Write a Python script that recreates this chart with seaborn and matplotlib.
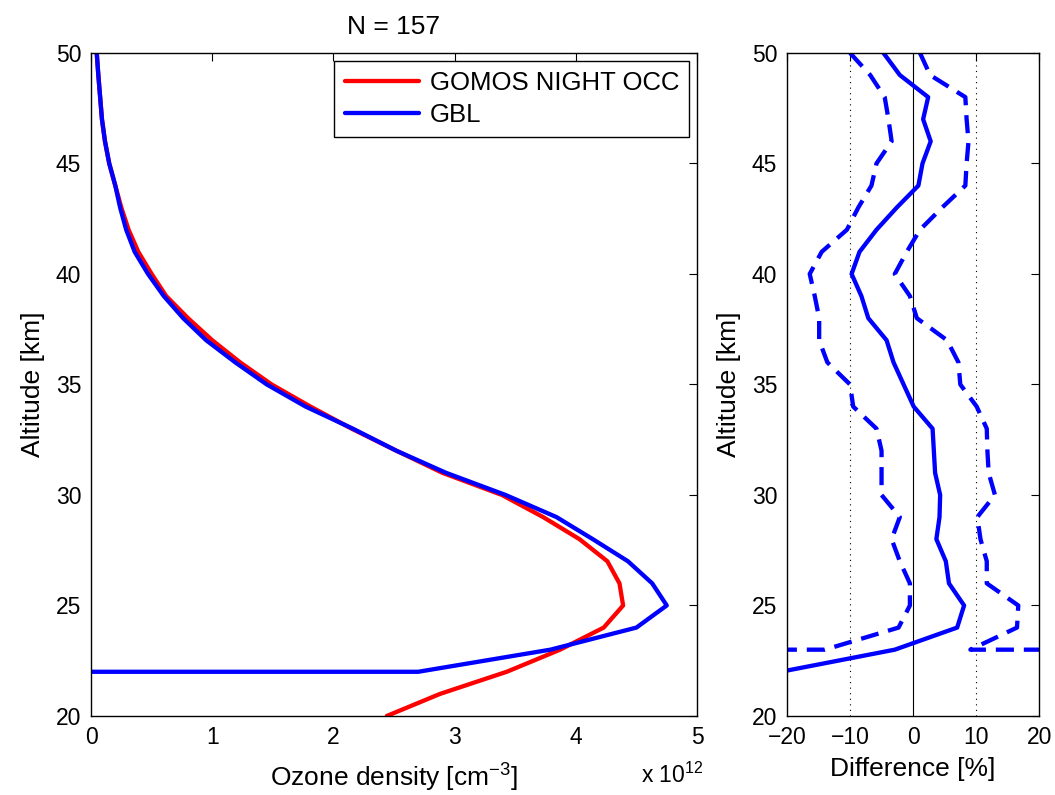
"""Perfil de ozono GOMOS vs GBL y diferencia relativa."""
import matplotlib
matplotlib.use("Agg")
import matplotlib.pyplot as plt
import seaborn as sns
import numpy as np

# altitudes [km]
alt_gomos = [50, 49, 48, 47, 46, 45, 44, 43, 42, 41, 40, 39, 38, 37, 36, 35,
             34, 33, 32, 31, 30, 29, 28, 27, 26, 25, 24, 23, 22, 21, 20]
# densidad de ozono [x 1e12 cm^-3]
gomos = [0.047, 0.06, 0.075, 0.09, 0.115, 0.15, 0.2, 0.25, 0.31, 0.39, 0.50,
         0.62, 0.80, 1.00, 1.23, 1.49, 1.81, 2.15, 2.52, 2.90, 3.39, 3.73,
         4.03, 4.26, 4.36, 4.39, 4.23, 3.87, 3.43, 2.88, 2.44]

alt_gbl = [50, 49, 48, 47, 46, 45, 44, 43, 42, 41, 40, 39, 38, 37, 36, 35,
           34, 33, 32, 31, 30, 29, 28, 27, 26, 25, 24, 23, 22, 22]
gbl = [0.047, 0.06, 0.075, 0.09, 0.115, 0.15, 0.2, 0.24, 0.29, 0.36, 0.47,
       0.60, 0.76, 0.95, 1.19, 1.45, 1.77, 2.16, 2.52, 2.93, 3.42, 3.84,
       4.14, 4.43, 4.63, 4.75, 4.50, 3.79, 2.70, 0.0]

# diferencia [%]: mediana y limites
alt_dif = [50, 49, 48, 47, 46, 45, 44, 43, 42, 41, 40, 39, 38, 37, 36, 35,
           34, 33, 32, 31, 30, 29, 28, 27, 26, 25, 24, 23, 22]
dif_med = [-4.7, -2.1, 2.4, 1.6, 2.8, 1.5, 0.85, -2.6, -5.8, -8.5, -9.75,
           -8.2, -7.1, -4.2, -3.1, -1.5, 0.1, 3.1, 3.3, 3.5, 4.3, 4.2, 3.7,
           5.2, 5.7, 8.1, 7.0, -2.9, -21.0]

alt_lim = [50, 49, 48, 47, 46, 45, 44, 43, 42, 41, 40, 39, 38, 37, 36, 35,
           34, 33, 32, 31, 30, 29, 28, 27, 26, 25, 24, 23, 23]
dif_inf = [-10.0, -6.8, -4.5, -3.9, -3.4, -5.8, -6.6, -8.7, -10.5, -14.5,
           -16.4, -15.6, -14.9, -14.9, -13.6, -10.0, -9.5, -5.8, -5.0, -5.0,
           -5.0, -2.1, -3.4, -2.1, -0.5, -0.5, -2.3, -14.0, -40.0]
dif_sup = [1.1, 2.7, 8.3, 8.5, 8.8, 8.5, 8.3, 4.6, 1.1, -1.0, -2.9, -0.5,
           0.6, 5.4, 7.2, 7.5, 10.1, 11.7, 11.8, 12.0, 13.0, 10.2, 10.7, 11.7,
           11.7, 16.7, 16.5, 9.1, 40.0]

sns.set_style("white")
plt.rcParams['font.family'] = ['Liberation Sans', 'DejaVu Sans']
plt.rcParams['mathtext.fontset'] = 'custom'
plt.rcParams['mathtext.rm'] = 'Liberation Sans'
plt.rcParams['text.color'] = 'black'
plt.rcParams['axes.labelcolor'] = 'black'

fig = plt.figure(figsize=(10.55, 7.95), dpi=100)
ax1 = fig.add_axes([0.0863, 0.0994, 0.5744, 0.834])
ax2 = fig.add_axes([0.746, 0.0994, 0.2389, 0.834])

lw = 3.1
sns.lineplot(x=gomos, y=alt_gomos, sort=False, estimator=None, color='#ff0000',
             lw=lw, label='GOMOS NIGHT OCC', ax=ax1)
sns.lineplot(x=gbl, y=alt_gbl, sort=False, estimator=None, color='#0000ff',
             lw=lw, label='GBL', ax=ax1)

ax1.set_xlim(0, 5)
ax1.set_ylim(20, 50)
ax1.set_xticks(range(0, 6))
ax1.set_yticks(range(20, 51, 5))
ax1.set_xlabel('Ozone density [cm$^{-3}$]', fontsize=19, labelpad=8)
ax1.set_ylabel('Altitude [km]', fontsize=19, labelpad=8)
ax1.set_title('N = 157', fontsize=19, pad=14)
ax1.text(1.01, -0.07, 'x 10$^{12}$', transform=ax1.transAxes, fontsize=16.5,
         ha='right', va='top')
leg = ax1.legend(loc='upper right', fontsize=18.5, handlelength=2.9,
                 fancybox=False, framealpha=1, edgecolor='black',
                 borderaxespad=0.3, handletextpad=0.4, labelspacing=0.3,
                 borderpad=0.4)
leg.get_frame().set_linewidth(1.0)

# panel de diferencias
ax2.axvline(0, color='black', lw=0.8, zorder=1)
for v in (-10, 10):
    ax2.axvline(v, color='black', lw=0.8, ls=(0, (1, 4)), zorder=1)
sns.lineplot(x=dif_med, y=alt_dif, sort=False, estimator=None, color='#0000ff',
             lw=lw, ax=ax2)
for serie in (dif_inf, dif_sup):
    sns.lineplot(x=serie, y=alt_lim, sort=False, estimator=None,
                 color='#0000ff', lw=lw, dashes=False, ax=ax2)
for line in ax2.get_lines()[4:]:
    line.set_dashes((4.2, 2.3))

ax2.set_xlim(-20, 20)
ax2.set_ylim(20, 50)
ax2.set_xticks([-20, -10, 0, 10, 20])
ax2.set_xticklabels(['\u221220', '\u221210', '0', '10', '20'])
ax2.set_yticks(range(20, 51, 5))
ax2.set_xlabel('Difference [%]', fontsize=19, labelpad=6)
ax2.set_ylabel('Altitude [km]', fontsize=19, labelpad=8)

for ax in (ax1, ax2):
    ax.tick_params(direction='in', length=6, width=0.8, top=True, right=True,
                   labelsize=16.5, colors='black', pad=7)
    for sp in ax.spines.values():
        sp.set_color('black')
        sp.set_linewidth(1.0)
    ax.grid(False)

fig.savefig('out.png', dpi=100)
